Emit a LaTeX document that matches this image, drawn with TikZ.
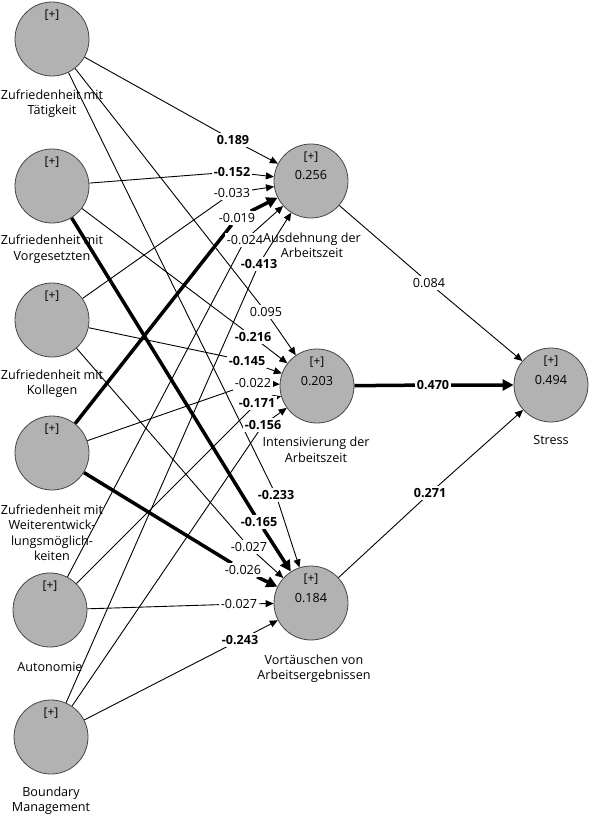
\documentclass[tikz,border=0pt]{standalone}
\usepackage{fontspec}
\setmainfont{Open Sans}
\usetikzlibrary{arrows.meta}
\definecolor{cfill}{RGB}{178,178,178}
\definecolor{cdraw}{RGB}{70,70,70}
\pgfdeclarelayer{back}
\pgfdeclarelayer{bg}
\pgfsetlayers{back,bg,main}
\begin{document}
\begin{tikzpicture}[x=1pt,y=-1pt,
  lv/.style={circle, minimum size=74pt, inner sep=0pt, fill=cfill, draw=cdraw, line width=0.8pt},
  plustxt/.style={font=\fontsize{12}{14}\selectfont, inner sep=0pt},
  lvname/.style={align=center, font=\fontsize{12.6}{15.5}\selectfont, inner sep=0pt},
  coef/.style={font=\fontsize{12.6}{14}\selectfont, inner ysep=2pt, inner xsep=1.5pt, fill=white},
  bcoef/.style={coef, font=\fontsize{12.6}{14}\selectfont\bfseries},
  val/.style={font=\fontsize{12.6}{14}\selectfont, inner sep=0pt},
  pth/.style={draw, line width=0.9pt, -{Triangle[length=8pt,width=7pt]}},
  tpth/.style={draw, line width=3.5pt, -{Triangle[length=11pt,width=11pt]}},
]
\begin{pgfonlayer}{back}
\fill[white] (0,0) rectangle (590,816);
\end{pgfonlayer}
\useasboundingbox (0,0) rectangle (590,816);

% latent variables
\node[lv] (T) at (52,39) {};
\node[lv] (V) at (52,186) {};
\node[lv] (K) at (52,320) {};
\node[lv] (W) at (52,453) {};
\node[lv] (A) at (50,610) {};
\node[lv] (B) at (51,737) {};
\node[lv] (AZ) at (311,181) {};
\node[lv] (IA) at (317,386) {};
\node[lv] (VA) at (311,603) {};
\node[lv] (S) at (551,385) {};

\foreach \n in {T,V,K,W,A,B,AZ,IA,VA,S}
  \node[plustxt] (p\n) at ([yshift=24pt]\n.center) {[+]};

\node[val] (vAZ) at ([yshift=6pt]AZ.center) {0.256};
\node[val] (vIA) at ([yshift=5pt]IA.center) {0.203};
\node[val] (vVA) at ([yshift=5pt]VA.center) {0.184};
\node[val] (vS) at ([yshift=5pt]S.center) {0.494};

% coefficients
\node[bcoef] (c1) at (233,140) {0.189};
\node[bcoef] (c2) at (232,172) {-0.152};
\node[coef] (c3) at (232,193) {-0.033};
\node[coef] (c4) at (237,218) {-0.019};
\node[coef] (c5) at (245,240) {-0.024};
\node[bcoef] (c6) at (259,264) {-0.413};
\node[coef] (c7) at (266,312) {0.095};
\node[bcoef] (c8) at (253,337) {-0.216};
\node[bcoef] (c9) at (247,361) {-0.145};
\node[coef] (c10) at (253,383) {-0.022};
\node[bcoef] (c11) at (257,403) {-0.171};
\node[bcoef] (c12) at (263,425) {-0.156};
\node[bcoef] (c13) at (276,495) {-0.233};
\node[bcoef] (c14) at (259,522) {-0.165};
\node[coef] (c15) at (249,547) {-0.027};
\node[coef] (c16) at (243,570) {-0.026};
\node[coef] (c17) at (239,604) {-0.027};
\node[bcoef] (c18) at (240,640) {-0.243};
\node[coef] (c19) at (429,283) {0.084};
\node[bcoef] (c20) at (433,385) {0.470};
\node[bcoef] (c21) at (430,493) {0.271};

% names
\node[lvname] (nT) at (52,103.5) {Zufriedenheit mit\\Tätigkeit};
\node[lvname] (nV) at (52,249) {Zufriedenheit mit\\Vorgesetzten};
\node[lvname] (nK) at (52,383.5) {Zufriedenheit mit\\Kollegen};
\node[lvname] (nW) at (52,532.5) {Zufriedenheit mit\\Weiterentwick-\\lungsmöglich-\\keiten};
\node[lvname] (nA) at (50,667) {Autonomie};
\node[lvname] (nB) at (51,800.5) {Boundary\\Management};
\node[lvname] (nAZ) at (312,245.5) {Ausdehnung der\\Arbeitszeit};
\node[lvname] (nIA) at (316,450) {Intensivierung der\\Arbeitszeit};
\node[lvname] (nVA) at (314,668.5) {Vortäuschen von\\Arbeitsergebnissen};
\node[lvname] (nS) at (551,440) {Stress};

\begin{pgfonlayer}{bg}
\draw[pth] (T) -- (c1) -- (AZ);
\draw[pth] (V) -- (c2) -- (AZ);
\draw[pth] (K) -- (c3) -- (AZ);
\draw[tpth] (W) -- (c4) -- (AZ);
\draw[pth] (A) -- (c5) -- (AZ);
\draw[pth] (B) -- (c6) -- (AZ);
\draw[pth] (T) -- (c7) -- (IA);
\draw[pth] (V) -- (c8) -- (IA);
\draw[pth] (K) -- (c9) -- (IA);
\draw[pth] (W) -- (c10) -- (IA);
\draw[pth] (A) -- (c11) -- (IA);
\draw[pth] (B) -- (c12) -- (IA);
\draw[pth] (T) -- (c13) -- (VA);
\draw[tpth] (V) -- (c14) -- (VA);
\draw[pth] (K) -- (c15) -- (VA);
\draw[tpth] (W) -- (c16) -- (VA);
\draw[pth] (A) -- (c17) -- (VA);
\draw[pth] (B) -- (c18) -- (VA);
\draw[pth] (AZ) -- (c19) -- (S);
\draw[tpth] (IA) -- (c20) -- (S);
\draw[pth] (VA) -- (c21) -- (S);
\end{pgfonlayer}
\end{tikzpicture}
\end{document}
